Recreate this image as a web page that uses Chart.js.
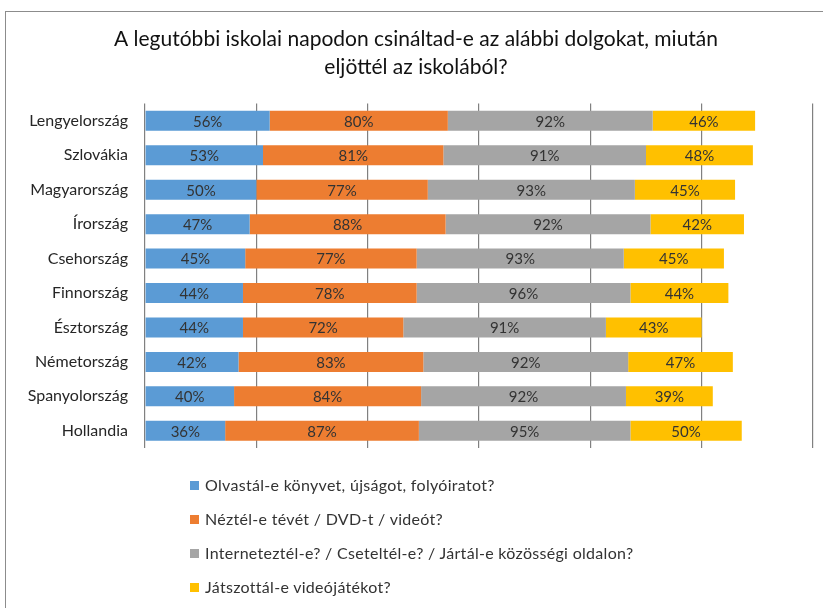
<!DOCTYPE html>
<html lang="hu">
<head>
<meta charset="utf-8">
<script src="https://cdn.jsdelivr.net/npm/chart.js@4/dist/chart.umd.min.js"></script>
<style>
  html, body { margin: 0; padding: 0; background: #fff; overflow: hidden; }
  #wrap { position: relative; width: 823px; height: 608px; }
  #keret { position: absolute; left: 5px; top: 11px; width: 900px; height: 700px;
           border-left: 1.5px solid #8c8c8c; border-top: 1.5px solid #8c8c8c; }
  #abra { position: absolute; left: 0; top: 0; }
  #jelmagyarazat { position: absolute; left: 190px; top: 468px; margin: 0; padding: 0;
                   list-style: none; font-family: Lato, "Open Sans", sans-serif;
                   font-size: 16px; letter-spacing: 0.3px; color: #333; }
  #jelmagyarazat li { height: 34px; line-height: 22px; display: flex; align-items: center; }
  #jelmagyarazat li span.doboz { display: inline-block; width: 9px; height: 9px; margin-right: 6px; }
</style>
</head>
<body>
<div id="wrap">
  <div id="keret"></div>
  <canvas id="abra" width="823" height="608"></canvas>
  <ul id="jelmagyarazat"></ul>
</div>
<script>
const orszagok = ["Lengyelország", "Szlovákia", "Magyarország", "Írország", "Csehország",
  "Finnország", "Észtország", "Németország", "Spanyolország", "Hollandia"];

const olvasas = [56, 53, 50, 47, 45, 44, 44, 42, 40, 36];
const teveVideo = [80, 81, 77, 88, 77, 78, 72, 83, 84, 87];
const internet = [92, 91, 93, 92, 93, 96, 91, 92, 92, 95];
const jatek = [46, 48, 45, 42, 45, 44, 43, 47, 39, 50];

const sorozatNevek = [
  "Olvastál-e könyvet, újságot, folyóiratot?",
  "Néztél-e tévét / DVD-t / videót?",
  "Interneteztél-e? / Cseteltél-e? / Jártál-e közösségi oldalon?",
  "Játszottál-e videójátékot?"
];
const szinek = ["#5b9bd5", "#ed7d31", "#a5a5a5", "#ffc000"];

const betu = 'Lato, "Open Sans", sans-serif';
const balMargo = 19;

// értékek kiírása a sávok közepére
const ertekCimkek = {
  id: "ertekCimkek",
  afterDatasetsDraw(chart) {
    const ctx = chart.ctx;
    ctx.save();
    ctx.font = "15px " + betu;
    ctx.fillStyle = "#333";
    ctx.textAlign = "center";
    ctx.textBaseline = "middle";
    chart.data.datasets.forEach((ds, i) => {
      chart.getDatasetMeta(i).data.forEach((el, j) => {
        const p = el.getProps(["x", "y", "base"], true);
        ctx.fillText(ds.data[j] + "%", (p.x + p.base) / 2, p.y + 1);
      });
    });
    ctx.restore();
  }
};

const chart = new Chart(document.getElementById("abra"), {
  type: "bar",
  data: {
    labels: orszagok,
    datasets: [olvasas, teveVideo, internet, jatek].map((adat, i) => ({
      label: sorozatNevek[i],
      data: adat,
      backgroundColor: szinek[i],
      borderWidth: 0,
      categoryPercentage: 1,
      barPercentage: 0.58,
    })),
  },
  options: {
    indexAxis: "y",
    responsive: false,
    animation: false,
    layout: { padding: { left: balMargo, right: 10, top: 0, bottom: 160 } },
    scales: {
      x: {
        stacked: true,
        min: 0,
        max: 300,
        ticks: { display: false, stepSize: 50 },
        grid: { color: "#808080", lineWidth: 1.2, drawTicks: false },
        border: { display: false },
      },
      y: {
        stacked: true,
        afterFit(scale) { scale.width = 145 - balMargo; },
        ticks: { padding: 17, color: "#262626", font: { family: betu, size: 16 } },
        grid: { display: false, drawTicks: false },
        border: { display: false },
      },
    },
    plugins: {
      legend: { display: false },
      tooltip: { enabled: false },
      title: {
        display: true,
        text: ["A legutóbbi iskolai napodon csináltad-e az alábbi dolgokat, miután",
               "eljöttél az iskolából?"],
        color: "#111",
        font: { family: betu, size: 21, weight: "normal", lineHeight: 1.3 },
        padding: { top: 26, bottom: 23 },
      },
    },
  },
  plugins: [ertekCimkek],
});

// jelmagyarázat egy oszlopban, a diagram adatsoraiból
const lista = document.getElementById("jelmagyarazat");
chart.data.datasets.forEach((ds) => {
  const li = document.createElement("li");
  const doboz = document.createElement("span");
  doboz.className = "doboz";
  doboz.style.background = ds.backgroundColor;
  li.appendChild(doboz);
  li.appendChild(document.createTextNode(ds.label));
  lista.appendChild(li);
});
</script>
</body>
</html>
